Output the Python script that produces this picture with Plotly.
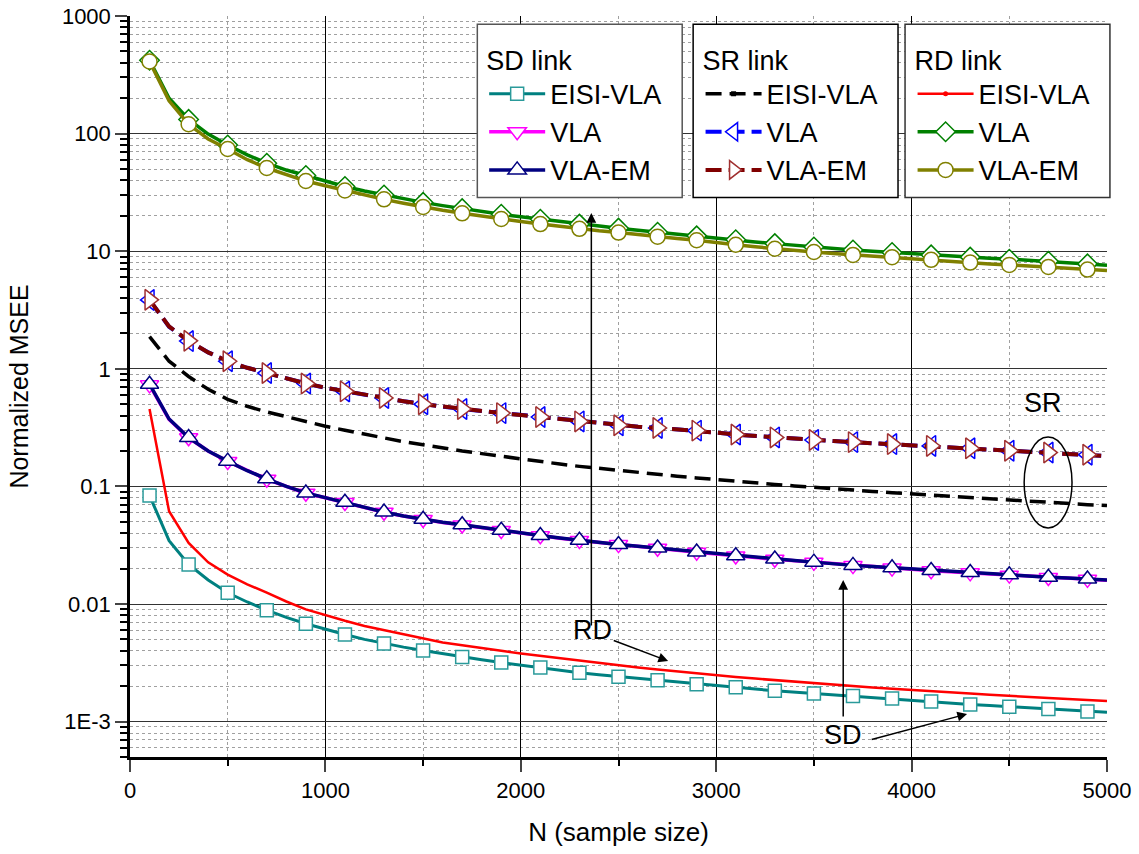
import plotly.graph_objects as go

N = [100 * i for i in range(1, 51)]

# SD link
sd_eisi = [0.0836, 0.0346, 0.0217, 0.0160, 0.01245, 0.0104, 0.00887, 0.0077, 0.0068, 0.0061,
           0.0055, 0.0050, 0.00462, 0.0043, 0.00403, 0.00378, 0.00355, 0.00336, 0.00318, 0.00302,
           0.00288, 0.00274, 0.0026, 0.0025, 0.00241, 0.00233, 0.00225, 0.00216, 0.00208, 0.00202,
           0.00196, 0.00189, 0.00183, 0.00178, 0.00173, 0.00169, 0.00165, 0.00161, 0.00157, 0.00152,
           0.00148, 0.00144, 0.0014, 0.00137, 0.00134, 0.00131, 0.00128, 0.00125, 0.00122, 0.0012]
sd_vla = [0.73, 0.372, 0.259, 0.2, 0.163, 0.136, 0.115, 0.1, 0.0875, 0.08,
          0.073, 0.066, 0.0603, 0.056, 0.0523, 0.0494, 0.047, 0.0445, 0.0422, 0.0401,
          0.0381, 0.0363, 0.0347, 0.0333, 0.032, 0.0309, 0.0298, 0.0286, 0.0276, 0.0265,
          0.0256, 0.0248, 0.024, 0.0233, 0.0226, 0.0218, 0.0212, 0.0207, 0.0202, 0.0197,
          0.0192, 0.0188, 0.0184, 0.018, 0.0176, 0.0172, 0.0168, 0.0165, 0.0162, 0.0159]
sd_vlaem = [0.74, 0.374, 0.26, 0.2, 0.164, 0.136, 0.116, 0.1, 0.088, 0.08,
            0.0733, 0.066, 0.0605, 0.056, 0.0525, 0.0495, 0.0472, 0.0446, 0.0424, 0.0402,
            0.0382, 0.0364, 0.0348, 0.0334, 0.0321, 0.031, 0.0299, 0.0287, 0.0277, 0.0266,
            0.0257, 0.0249, 0.0241, 0.0234, 0.0227, 0.0219, 0.0213, 0.0208, 0.0203, 0.0198,
            0.0193, 0.0189, 0.0185, 0.0181, 0.0177, 0.0173, 0.0169, 0.0166, 0.0163, 0.016]

# SR link
sr_eisi = [1.88, 1.16, 0.86, 0.67, 0.55, 0.48, 0.43, 0.39, 0.355, 0.325,
           0.30, 0.278, 0.258, 0.24, 0.226, 0.212, 0.2, 0.19, 0.18, 0.171,
           0.163, 0.155, 0.148, 0.142, 0.136, 0.131, 0.126, 0.122, 0.118, 0.114,
           0.110, 0.107, 0.104, 0.101, 0.098, 0.0955, 0.093, 0.0907, 0.0885, 0.0864,
           0.0842, 0.0821, 0.080, 0.078, 0.0763, 0.0746, 0.0729, 0.0712, 0.0699, 0.0687]
sr_vla = [3.85, 2.28, 1.72, 1.38, 1.16, 1.02, 0.92, 0.83, 0.75, 0.69,
          0.642, 0.6, 0.564, 0.53, 0.5, 0.477, 0.455, 0.437, 0.42, 0.404,
          0.389, 0.372, 0.357, 0.343, 0.331, 0.322, 0.314, 0.306, 0.298, 0.287,
          0.276, 0.268, 0.261, 0.254, 0.248, 0.243, 0.238, 0.233, 0.229, 0.225,
          0.221, 0.216, 0.211, 0.206, 0.201, 0.197, 0.194, 0.19, 0.186, 0.181]
sr_vlaem = [3.86, 2.29, 1.73, 1.38, 1.16, 1.02, 0.92, 0.83, 0.75, 0.69,
            0.643, 0.6, 0.565, 0.53, 0.5, 0.477, 0.455, 0.437, 0.42, 0.404,
            0.389, 0.372, 0.357, 0.343, 0.331, 0.322, 0.314, 0.306, 0.298, 0.287,
            0.276, 0.268, 0.261, 0.254, 0.248, 0.243, 0.238, 0.233, 0.229, 0.225,
            0.221, 0.216, 0.211, 0.206, 0.201, 0.197, 0.194, 0.19, 0.186, 0.181]

# RD link
rd_eisi = [0.455, 0.0615, 0.0331, 0.0226, 0.0178, 0.0147, 0.0125, 0.0105, 0.0090, 0.0080,
           0.0072, 0.0065, 0.0060, 0.0055, 0.0051, 0.0047, 0.00445, 0.0042, 0.0040, 0.0038,
           0.00362, 0.00347, 0.0033, 0.00313, 0.0030, 0.00288, 0.00277, 0.00266, 0.00256, 0.00247,
           0.00239, 0.00232, 0.00225, 0.00218, 0.00212, 0.00206, 0.00201, 0.00195, 0.0019, 0.00185,
           0.00181, 0.00177, 0.00173, 0.00169, 0.00165, 0.00162, 0.00159, 0.00156, 0.00153, 0.0015]
rd_vla = [420, 200, 132, 99, 80, 66, 56, 49, 44, 39.5,
          35.5, 32.5, 30, 28, 26, 24.4, 23, 21.7, 20.6, 19.6,
          18.7, 17.8, 17, 16.3, 15.7, 15.1, 14.5, 14.0, 13.5, 13.0,
          12.5, 12.0, 11.6, 11.2, 10.85, 10.55, 10.25, 10.0, 9.75, 9.5,
          9.3, 9.1, 8.9, 8.72, 8.55, 8.38, 8.2, 8.0, 7.8, 7.6]
rd_vlaem = [410, 190, 120, 90, 74, 60, 51, 44.5, 39.5, 36,
            32.8, 30, 27.6, 25.6, 23.8, 22.3, 21, 19.8, 18.8, 17.9,
            17, 16.2, 15.5, 14.9, 14.4, 13.8, 13.3, 12.8, 12.4, 11.8,
            11.35, 10.9, 10.5, 10.15, 9.85, 9.55, 9.3, 9.1, 8.9, 8.65,
            8.45, 8.2, 8.0, 7.8, 7.65, 7.5, 7.35, 7.15, 6.98, 6.85]

x_ticks = [0, 1000, 2000, 3000, 4000, 5000]
x_minor = [500, 1500, 2500, 3500, 4500]
y_ticks = [1e-3, 1e-2, 1e-1, 1, 10, 100, 1000]
y_ticktext = ["1E-3", "0.01", "0.1", "1", "10", "100", "1000"]
y_minor = [m * 10.0 ** e for e in range(-4, 3) for m in range(2, 10) if m * 10.0 ** e >= 5e-4]

FONT = "Liberation Sans, Arial, sans-serif"

fig = go.Figure()


def add(y, name, color, legend, symbol=None, width=3, dash="solid", msize=15, lcolor=None,
        leg_symbol="circle"):
    line = dict(color=color, width=width, dash=dash)
    fig.add_trace(go.Scatter(x=N, y=y, mode="lines", line=line, showlegend=False,
                             legend=legend, hoverinfo="skip"))
    if symbol is not None:
        marker = dict(symbol=symbol, size=msize, color="white", opacity=1,
                      line=dict(color=lcolor or color, width=1.5))
        fig.add_trace(go.Scatter(x=N[0::2], y=y[0::2], mode="markers", marker=marker,
                                 showlegend=False, legend=legend))
        fig.add_trace(go.Scatter(x=[None], y=[None], mode="lines+markers", name=name,
                                 line=line, marker=marker, legend=legend))
    else:
        fig.add_trace(go.Scatter(x=[None], y=[None], mode="lines+markers", name=name,
                                 line=line, legend=legend,
                                 marker=dict(symbol=leg_symbol, size=5, color=color)))


add(sd_eisi, "EISI-VLA", "#008080", "legend", "square", 3, msize=13, lcolor="#2a9a9a")
add(sd_vla, "VLA", "#ff00ff", "legend", "triangle-down", 3.5, msize=16)
add(sd_vlaem, "VLA-EM", "#000080", "legend", "triangle-up", 3.5, msize=16)
add(sr_eisi, "EISI-VLA", "#000000", "legend2", None, 3.5, dash="16px,8px", leg_symbol="square")
add(sr_vla, "VLA", "#0000ff", "legend2", "triangle-left", 4, dash="16px,7px", msize=18)
add(sr_vlaem, "VLA-EM", "#800000", "legend2", "triangle-right", 4, dash="16px,7px", msize=18, lcolor="#a03030")
add(rd_eisi, "EISI-VLA", "#ff0000", "legend3", None, 2.5)
add(rd_vla, "VLA", "#008000", "legend3", "diamond", 3.5, msize=15)
add(rd_vlaem, "VLA-EM", "#808000", "legend3", "circle", 3.5, msize=15)

leg_common = dict(xanchor="left", yanchor="top", bgcolor="rgba(0,0,0,0)", borderwidth=0,
                  font=dict(family=FONT, size=27, color="black"), itemwidth=56,
                  tracegroupgap=0, traceorder="normal")
fig.update_layout(
    legend=dict(x=0.3625, y=0.975, title=dict(text="SD link", font=dict(family=FONT, size=27)), **leg_common),
    legend2=dict(x=0.584, y=0.975, title=dict(text="SR link", font=dict(family=FONT, size=27)), **leg_common),
    legend3=dict(x=0.801, y=0.975, title=dict(text="RD link", font=dict(family=FONT, size=27)), **leg_common),
)

# legend boxes (paper coords)
boxes = [(0.3555, 0.5652, "#555555"), (0.5764, 0.7861, "#000000"), (0.7933, 1.003, "#333333")]
for x0, x1, c in boxes:
    fig.add_shape(type="rect", xref="paper", yref="paper", x0=x0, x1=x1, y0=0.755, y1=0.989,
                  fillcolor="white", line=dict(color=c, width=1.5), layer="above")

# ellipse around SR curves
fig.add_shape(type="circle", xref="x", yref="y", x0=4576, x1=4821, y0=0.0443, y1=0.263,
              line=dict(color="black", width=1.5), layer="above")

ann_font = dict(family=FONT, size=27, color="black")
fig.add_annotation(x=2366, y=-2.225, text="RD", showarrow=False, font=ann_font)
fig.add_annotation(x=3650, y=-3.114, text="SD", showarrow=False, font=ann_font)
fig.add_annotation(x=4673, y=-0.291, text="SR", showarrow=False, font=ann_font)

arrows = [
    (2361, 1.325, 2361, -2.196),
    (2754, -2.485, 2468, -2.306),
    (3650, -1.796, 3650, -2.969),
    (4284, -2.935, 3788, -3.156),
]
for x, y, ax, ay in arrows:
    fig.add_annotation(x=x, y=y, ax=ax, ay=ay, xref="x", yref="y", axref="x", ayref="y",
                       text="", showarrow=True, arrowhead=2, arrowsize=1.3, arrowwidth=1.5,
                       arrowcolor="black")

fig.update_xaxes(
    range=[0, 5000], tickvals=x_ticks, ticks="outside", ticklen=12, tickwidth=2,
    showline=True, linewidth=2.5, linecolor="black", showgrid=True, gridcolor="#000000",
    gridwidth=1, zeroline=False, automargin=False,
    tickfont=dict(family=FONT, size=22, color="black"),
    title=dict(text="N (sample size)", font=dict(family=FONT, size=26, color="black"), standoff=21),
    minor=dict(tickvals=x_minor, ticks="outside", ticklen=6, tickwidth=2, tickcolor="black",
               showgrid=True, gridcolor="#a0a0a0", griddash="dot", gridwidth=1),
)
fig.update_yaxes(
    type="log", range=[-3.301, 3], tickvals=y_ticks, ticktext=y_ticktext, ticks="outside",
    ticklen=12, tickwidth=2, showline=True, linewidth=2.5, linecolor="black",
    showgrid=True, gridcolor="#333333", gridwidth=1, zeroline=False, automargin=False,
    tickfont=dict(family=FONT, size=22, color="black"),
    title=dict(text="Normalized MSEE", font=dict(family=FONT, size=25, color="black"), standoff=27),
    minor=dict(tickvals=y_minor, ticks="outside", ticklen=7, tickwidth=2, tickcolor="black",
               showgrid=True, gridcolor="#a0a0a0", griddash="dot", gridwidth=1),
)

fig.update_layout(
    width=1139, height=854, margin=dict(l=130, r=32, t=16, b=97, autoexpand=False),
    plot_bgcolor="white", paper_bgcolor="white", font=dict(family=FONT, color="black"),
)

fig.write_html("out.html")
